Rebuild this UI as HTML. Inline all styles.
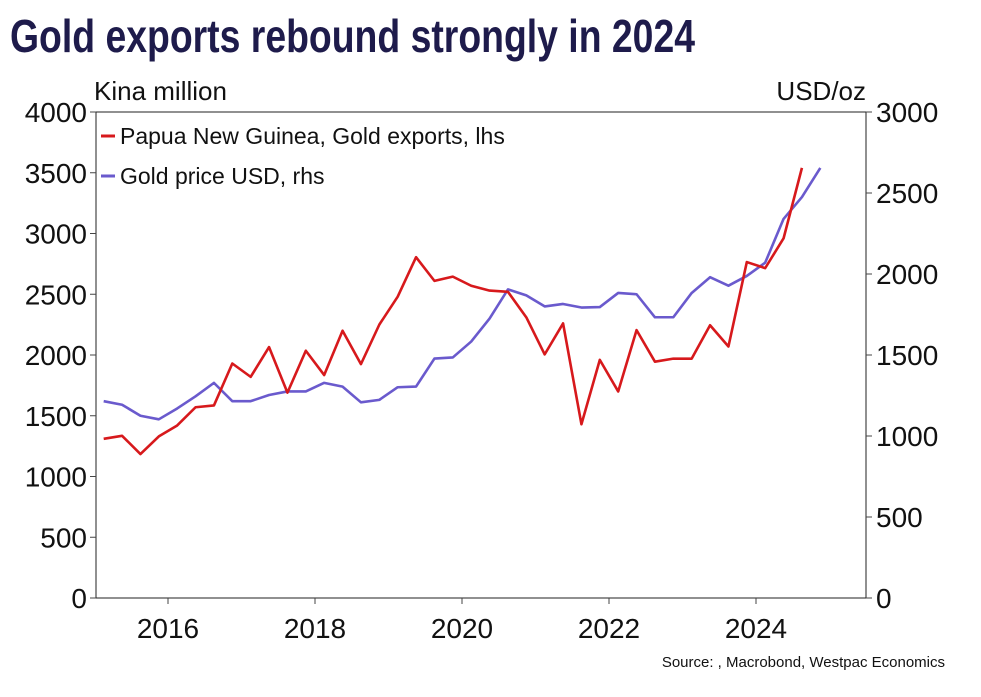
<!DOCTYPE html>
<html><head><meta charset="utf-8"><style>
html,body{margin:0;padding:0;background:#fff;}
body{width:981px;height:692px;overflow:hidden;font-family:"Liberation Sans",sans-serif;}
</style></head><body>
<svg width="981" height="692" xmlns="http://www.w3.org/2000/svg">
<rect x="0" y="0" width="981" height="692" fill="#fff"/>
<text x="10" y="52" font-family="'Liberation Sans Narrow','Liberation Sans',sans-serif" font-weight="bold" font-size="46" fill="#1e1b4b" textLength="685" lengthAdjust="spacingAndGlyphs">Gold exports rebound strongly in 2024</text>
<text x="94" y="100" font-size="26" fill="#111">Kina million</text>
<text x="866" y="100" font-size="26" fill="#111" text-anchor="end">USD/oz</text>
<g id="axes"></g>
<g id="series"></g>
<g>
<line x1="101" y1="136" x2="115" y2="136" stroke="#d7191c" stroke-width="3"/>
<text x="120" y="144" font-size="23" fill="#111">Papua New Guinea, Gold exports, lhs</text>
<line x1="101" y1="176" x2="115" y2="176" stroke="#6a5acd" stroke-width="3"/>
<text x="120" y="184" font-size="23" fill="#111">Gold price USD, rhs</text>
</g>
<text x="945" y="667" font-size="15" fill="#111" text-anchor="end">Source: , Macrobond, Westpac Economics</text>
</svg>
<script>
const exportsValues=[1310,1335,1185,1330,1420,1570,1585,1930,1820,2065,1690,2035,1835,2200,1925,2250,2480,2805,2610,2645,2570,2530,2520,2310,2005,2260,1430,1960,1700,2205,1945,1970,1970,2245,2070,2765,2715,2960,3540];
const priceValues=[1215,1193,1125,1103,1170,1245,1328,1215,1215,1253,1275,1275,1328,1305,1208,1223,1301,1305,1478,1485,1583,1725,1905,1868,1800,1815,1793,1796,1883,1875,1733,1733,1883,1980,1928,1988,2070,2340,2475,2655];
const leftTicks=[0,500,1000,1500,2000,2500,3000,3500,4000];
const rightTicks=[0,500,1000,1500,2000,2500,3000];
const yearTicks=[2016,2018,2020,2022,2024];
const startYear=2015;
const NS="http://www.w3.org/2000/svg";
const L=96,R=866,T=112,B=598;
const xS=t=>168+(t-2016)*73.5;
const yL=v=>B-(v/4000)*(B-T);
const yR=v=>B-(v/3000)*(B-T);
const qt=i=>startYear+i*0.25+0.125;
function mk(tag,attrs,parent){const e=document.createElementNS(NS,tag);for(const k in attrs)e.setAttribute(k,attrs[k]);parent.appendChild(e);return e;}
const ax=document.getElementById('axes');
let e=mk('rect',{x:L,y:T,width:R-L,height:B-T,fill:'none',stroke:'#222','stroke-width':1},ax);


leftTicks.forEach(v=>{
 let t=mk('line',{x1:L-6,x2:L,y1:yL(v),y2:yL(v),stroke:'#444'},ax);
 
 
 let tx=mk('text',{x:L-9,y:yL(v)+10,'font-size':28,fill:'#111','text-anchor':'end'},ax);tx.textContent=v;
 
 
});
rightTicks.forEach(v=>{
 let t=mk('line',{x1:R,x2:R+6,y1:yR(v),y2:yR(v),stroke:'#444'},ax);
 
 
 let tx=mk('text',{x:R+10,y:yR(v)+10,'font-size':28,fill:'#111'},ax);tx.textContent=v;
 
 
});
yearTicks.forEach(v=>{
 let t=mk('line',{x1:xS(v),x2:xS(v),y1:B,y2:B+6,stroke:'#444'},ax);
 
 
 let tx=mk('text',{x:xS(v),y:B+40,'font-size':28,fill:'#111','text-anchor':'middle'},ax);tx.textContent=v;
 
 
});
const sg=document.getElementById('series');
let p1=mk('polyline',{points:priceValues.map((v,i)=>xS(qt(i))+','+yR(v)).join(' '),fill:'none',stroke:'#6a5acd','stroke-width':2.6,'stroke-linejoin':'round'},sg);


let p2=mk('polyline',{points:exportsValues.map((v,i)=>xS(qt(i))+','+yL(v)).join(' '),fill:'none',stroke:'#d7191c','stroke-width':2.6,'stroke-linejoin':'round'},sg);


</script>
</body></html>
